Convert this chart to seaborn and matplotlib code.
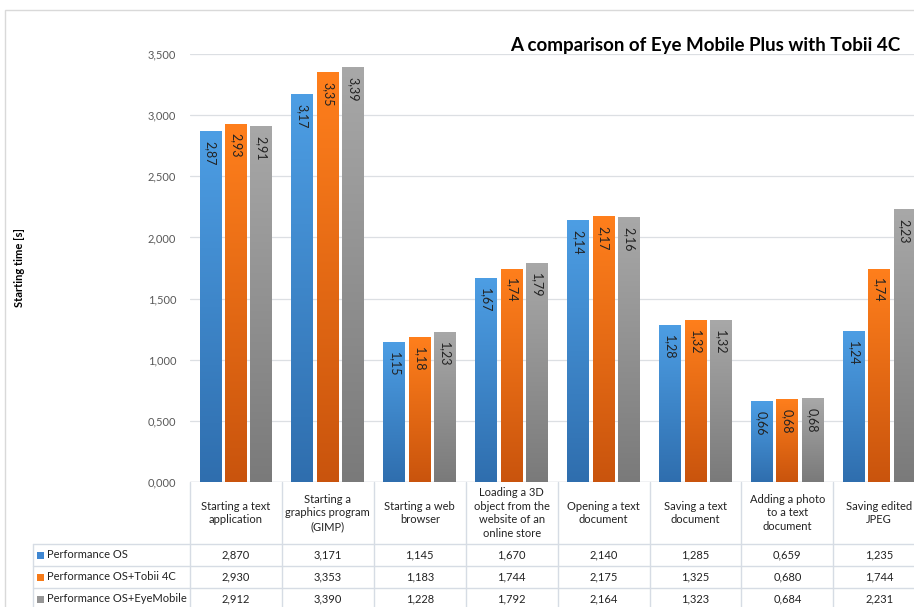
import numpy as np
import pandas as pd
import matplotlib
matplotlib.use("Agg")
import matplotlib.pyplot as plt
import matplotlib.transforms as mtransforms
from matplotlib.colors import LinearSegmentedColormap
from matplotlib.patches import Rectangle
import seaborn as sns

# ---------------- data ----------------
categories = [
    "Starting a text\napplication",
    "Starting a\ngraphics program\n(GIMP)",
    "Starting a web\nbrowser",
    "Loading a 3D\nobject from the\nwebsite of an\nonline store",
    "Opening a text\ndocument",
    "Saving a text\ndocument",
    "Adding a photo\nto a text\ndocument",
    "Saving edited\nJPEG",
]
series_names = ["Performance OS", "Performance OS+Tobii 4C", "Performance OS+EyeMobile"]
perf_os = [2.870, 3.171, 1.1452, 1.670, 2.140, 1.285, 0.659, 1.235]
perf_tobii = [2.930, 3.353, 1.183, 1.744, 2.175, 1.325, 0.680, 1.744]
perf_eye = [2.912, 3.390, 1.228, 1.792, 2.164, 1.323, 0.684, 2.231]
y_ticks = [0.0, 0.5, 1.0, 1.5, 2.0, 2.5, 3.0, 3.5]
title = "A comparison of Eye Mobile Plus with Tobii 4C"
y_label = "Starting time [s]"

series_values = [perf_os, perf_tobii, perf_eye]
swatch_colors = ["#3f87d2", "#f67a18", "#969696"]
grad_top = ["#4d9ee4", "#ff7f1c", "#a8a8a8"]
grad_bot = ["#2f6eae", "#c9540d", "#7a7a7a"]

df = pd.DataFrame({
    "cat": categories * 3,
    "series": sum([[s] * len(categories) for s in series_names], []),
    "value": perf_os + perf_tobii + perf_eye,
})
df["cat"] = pd.Categorical(df["cat"], categories=categories)

# ---------------- figure ----------------
sns.set_theme(style="white")
plt.rcParams["font.family"] = ["Lato", "DejaVu Sans"]

W, H = 914, 607
fig = plt.figure(figsize=(W / 100, H / 100), dpi=100)
col_w = 91.9
ax_left, ax_top, ax_bot = 190, 54, 482
ax = fig.add_axes([ax_left / W, (H - ax_bot) / H, 8 * col_w / W, (ax_bot - ax_top) / H])

sns.barplot(data=df, x="cat", y="value", hue="series", hue_order=series_names,
            palette=swatch_colors, width=0.83, gap=0.14, ax=ax, legend=False,
            errorbar=None, saturation=1)

n = len(categories)
ax.set_xlim(-0.5, n - 0.5)
ax.set_ylim(0, 3.5)
ax.set_yticks(y_ticks)
ax.yaxis.set_major_formatter(plt.FuncFormatter(lambda v, p: f"{v:.3f}".replace(".", ",")))
ax.tick_params(axis="y", labelsize=8, colors="#595959", length=0, pad=10)
ax.set_xticks([])
ax.set_xlabel("")
ax.set_ylabel("")
for s in ax.spines.values():
    s.set_visible(False)
ax.grid(axis="y", color="#dcdfe3", lw=0.9)
ax.set_axisbelow(True)
ax.axhline(0, color="#d0d4d9", lw=1, zorder=1)

# gradients + data labels
grad = np.linspace(0, 1, 256).reshape(-1, 1)
for si, cont in enumerate(ax.containers):
    cmap = LinearSegmentedColormap.from_list("g", [grad_bot[si], grad_top[si]])
    for bar, v in zip(cont.patches, series_values[si]):
        x0, w, h = bar.get_x(), bar.get_width(), bar.get_height()
        im = ax.imshow(grad, extent=[x0, x0 + w, 0, h], origin="lower", aspect="auto",
                       cmap=cmap, zorder=2)
        im.set_clip_path(bar)
        bar.set_edgecolor("none")
        ax.annotate(f"{v:.2f}".replace(".", ","), (x0 + w / 2, h), xytext=(0, -7),
                    textcoords="offset points", rotation=270, ha="center", va="top",
                    fontsize=9, color="#222222", zorder=3)
ax.set_xlim(-0.5, n - 0.5)
ax.set_ylim(0, 3.5)

# y label & title
fig.text(20 / W, 1 - 268 / H, y_label, rotation=90, ha="center", va="center",
         fontsize=8, fontweight="bold", color="#000000")
fig.text(900 / W, 1 - 45 / H, title, ha="right", va="center", fontsize=13.5,
         fontweight="bold", color="#000000")

# outer frame
fig.patches.append(Rectangle((5 / W, -0.1), 2, 1.1 - 10 / H, transform=fig.transFigure,
                             fill=False, edgecolor="#d9d9d9", lw=1))

# ---------------- data table ----------------
line_c = "#d6dce4"
tr = mtransforms.blended_transform_factory(ax.transData, fig.transFigure)
fy = lambda py: 1 - py / H
row_lines = [544, 566, 588, 610]
row_centers = [555, 577, 599]
for i in range(n + 1):
    xb = i - 0.5
    fig.add_artist(plt.Line2D([xb, xb], [fy(482), fy(620)], transform=tr, color=line_c,
                              lw=1, clip_on=False))
for i, cat in enumerate(categories):
    fig.text(i, fy(513), cat, transform=tr, ha="center", va="center", fontsize=8,
             color="#222222", linespacing=1.3)
x_left_fig = 33 / W
for py in row_lines:
    fig.add_artist(plt.Line2D([x_left_fig, 1.05], [fy(py), fy(py)], transform=fig.transFigure,
                              color=line_c, lw=1))
fig.add_artist(plt.Line2D([x_left_fig, x_left_fig], [fy(544), fy(620)], transform=fig.transFigure,
                          color=line_c, lw=1))
for si, name in enumerate(series_names):
    yc = fy(row_centers[si])
    fig.patches.append(Rectangle((37 / W, yc - 3.5 / H), 7 / W, 7 / H, transform=fig.transFigure,
                                 facecolor=swatch_colors[si], edgecolor="none"))
    fig.text(47 / W, yc, name, ha="left", va="center", fontsize=8, color="#222222")
    for i, v in enumerate(series_values[si]):
        fig.text(i, yc, f"{v:.3f}".replace(".", ","), transform=tr, ha="center", va="center",
                 fontsize=8, color="#222222")

fig.savefig("out.png", dpi=100)
